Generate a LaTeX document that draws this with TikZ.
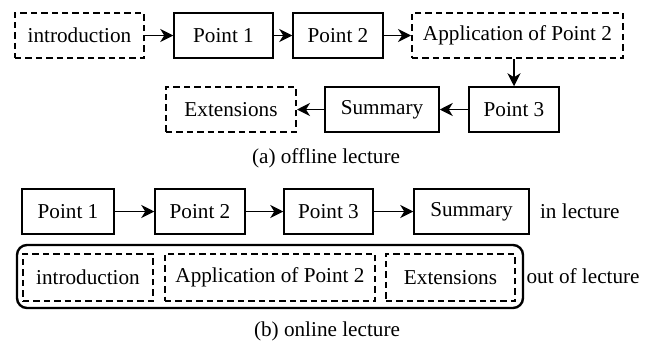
\documentclass[tikz,border=0pt]{standalone}
\usepackage{fontspec}
\setmainfont{Liberation Serif}
\usetikzlibrary{arrows.meta}
\tikzset{
  box/.style={draw,line width=0.75pt,minimum height=22.5pt,inner sep=0pt},
  dbox/.style={box,line width=1pt,dash pattern=on 3.2pt off 2pt},
  flow/.style={line width=0.7pt,-{Stealth[length=6.5pt,width=6.5pt,inset=2pt]}}
}
\begin{document}
\begin{tikzpicture}[x=0.5pt,y=-0.5pt,every node/.style={font=\fontsize{10.6pt}{12pt}\selectfont}]
\useasboundingbox (0,0) rectangle (653,343);
% offline lecture
\node[dbox,minimum width=64.5pt] (intro) at (79.5,35.5) {introduction};
\node[box,minimum width=49.5pt] (p1) at (223.5,35.5) {Point 1};
\node[box,minimum width=45pt] (p2) at (338,35.5) {Point 2};
\node[dbox,minimum width=105.5pt] (app) at (517.5,35.5) {Application of Point 2};
\node[box,minimum width=45pt] (p3) at (514,109.5) {Point 3};
\node[box,minimum width=57pt] (sum) at (382,109.5) {Summary};
\node[dbox,minimum width=65pt] (ext) at (231,109.5) {Extensions};
\node (capa) at (326,158) {(a) offline lecture};
\draw[flow] (intro)--(p1);
\draw[flow] (p1)--(p2);
\draw[flow] (p2)--(app);
\draw[flow] (app.south-|p3)--(p3);
\draw[flow] (p3)--(sum);
\draw[flow] (sum)--(ext);
% online lecture
\node[box,minimum width=46pt] (q1) at (68,211.5) {Point 1};
\node[box,minimum width=45pt] (q2) at (200,211.5) {Point 2};
\node[box,minimum width=44.5pt] (q3) at (328.5,211.5) {Point 3};
\node[box,minimum width=57.5pt] (qsum) at (471.5,211.5) {Summary};
\node[anchor=west] (in) at (533,211.5) {in lecture};
\draw[flow] (q1)--(q2);
\draw[flow] (q2)--(q3);
\draw[flow] (q3)--(qsum);
\node[draw,line width=1.2pt,rounded corners=5pt,minimum width=253pt,minimum height=31.5pt,inner sep=0pt] (out) at (270,276.5) {};
\node[dbox,minimum width=65pt,minimum height=23.5pt] (qintro) at (88,277.5) {introduction};
\node[dbox,minimum width=105pt,minimum height=23.5pt] (qapp) at (270,277.5) {Application of Point 2};
\node[dbox,minimum width=64.5pt,minimum height=23.5pt] (qext) at (450.5,277.5) {Extensions};
\node[anchor=west,inner sep=1pt] (outl) at (out.east) {out of lecture};
\node (capb) at (327,331) {(b) online lecture};
\end{tikzpicture}
\end{document}
